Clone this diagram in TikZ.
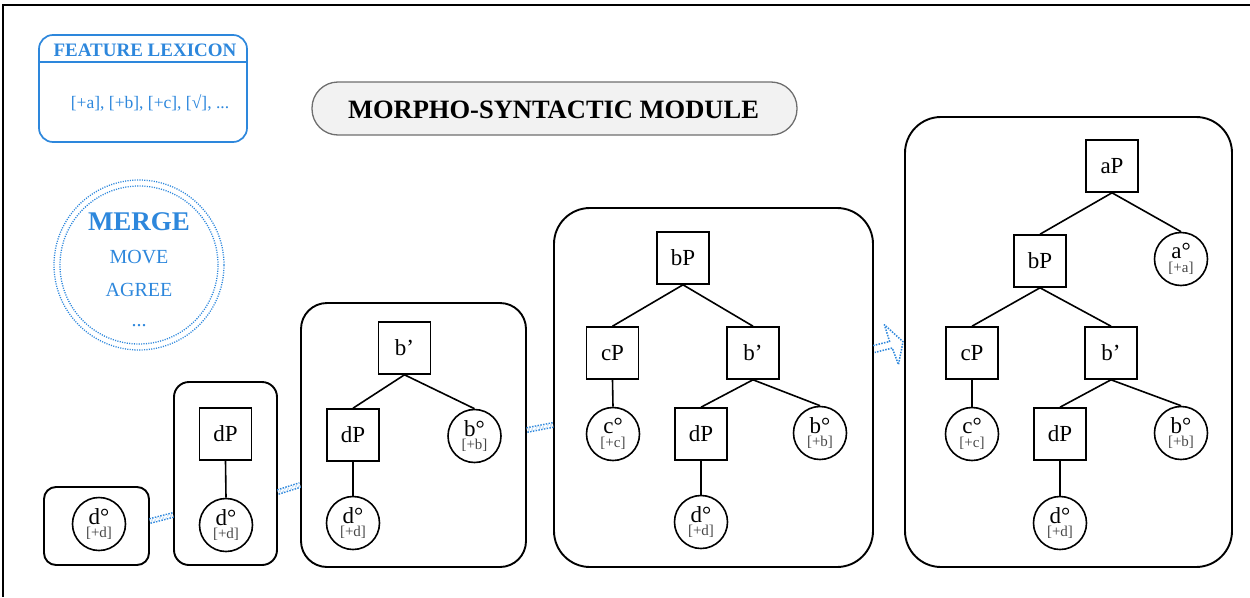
\documentclass[tikz,border=0pt]{standalone}
\usepackage{fontspec}
\setmainfont{Liberation Serif}
\usetikzlibrary{arrows.meta}
\definecolor{lexblue}{RGB}{45,135,220}
\definecolor{modfill}{RGB}{242,242,242}
\definecolor{modline}{RGB}{110,110,110}
\definecolor{featgray}{RGB}{70,70,70}
\newcommand{\fsz}[1]{\fontsize{#1}{#1}\selectfont}
\newcommand{\headtxt}[2]{#1°\\{\fontsize{15}{13.5}\selectfont\color{featgray}[+#2]}}
\newcommand{\bbar}{b\char39}
\tikzset{
  frame/.style={line width=1.6pt},
  stage/.style={draw, line width=1.9pt, inner sep=0pt},
  phr/.style={draw, line width=1.6pt, minimum size=52pt, inner sep=0pt, font=\fsz{23}},
  hd/.style={draw, circle, line width=1.6pt, minimum size=53pt, inner sep=0pt, align=center, font=\fontsize{23}{13.5}\selectfont},
  edge/.style={line width=1.6pt},
  link/.style={draw=lexblue, line width=1.5pt, double=white, double distance=3pt, dash pattern=on 1.5pt off 1.3pt},
  bluetext/.style={text=lexblue, inner sep=0pt, anchor=base}
}
\begin{document}
\begin{tikzpicture}[x=1pt,y=-1pt]
\useasboundingbox (0,0) rectangle (1250,597);
% outer frame lines
\coordinate (ftl) at (3,5);
\coordinate (ftr) at (1250,5);
\coordinate (fbl) at (3,597);
\draw[frame] (ftr) -- (ftl) -- (fbl);

% feature lexicon
\node[draw=lexblue, line width=1.7pt, rounded corners=14pt, minimum width=208pt, minimum height=107pt] (lex) at (143,88.5) {};
\draw[draw=lexblue, line width=1.7pt] (lex.west |- 0,62) -- (lex.east |- 0,62);
\node[bluetext, font=\bfseries\fsz{19}] (lext) at (145,56) {FEATURE LEXICON};
\node[bluetext, font=\fsz{17.5}] (lexb) at (150,108) {[+a], [+b], [+c], [\char"221A], ...};

% merge circle
\node[circle, draw=lexblue, line width=1.3pt, dash pattern=on 1.1pt off 1.3pt, minimum size=170pt, inner sep=0pt] (mo) at (139,265) {};
\node[circle, draw=lexblue, line width=1.3pt, dash pattern=on 1.1pt off 1.3pt, minimum size=158pt, inner sep=0pt] (mi) at (139,265) {};
\node[bluetext, font=\bfseries\fsz{27}] (merge) at (139,230.5) {MERGE};
\node[bluetext, font=\fsz{20}] (move) at (139,263) {MOVE};
\node[bluetext, font=\fsz{20}] (agree) at (139,296.5) {AGREE};
\node[bluetext, font=\fsz{20}] (dots) at (139,326.5) {...};

% module title
\node[draw=modline, fill=modfill, line width=1.3pt, rounded corners=26pt, minimum width=485pt, minimum height=53pt] (mod) at (554.5,108.5) {};
\node[inner sep=0pt, anchor=base, font=\bfseries\fsz{26.5}] (modt) at (553.5,118.3) {MORPHO-SYNTACTIC MODULE};

% stage boxes
\node[stage, rounded corners=12pt, minimum width=105pt, minimum height=78pt] (b1) at (96.5,526) {};
\node[stage, rounded corners=15pt, minimum width=103pt, minimum height=183pt] (b2) at (225.5,473.5) {};
\node[stage, rounded corners=26pt, minimum width=225pt, minimum height=264pt] (b3) at (413.5,435) {};
\node[stage, rounded corners=36pt, minimum width=319pt, minimum height=359pt] (b4) at (713.5,387.5) {};
\node[stage, rounded corners=36pt, minimum width=327pt, minimum height=450pt] (b5) at (1068.5,342) {};

% stage 1
\node[hd] (n1d) at (99,524) {\headtxt{d}{d}};
% stage 2
\node[phr] (n2dP) at (225.5,434) {dP};
\node[hd] (n2d) at (226,525) {\headtxt{d}{d}};
\draw[edge] (n2dP.south) -- (n2d.north);
% stage 3
\node[phr] (n3b) at (404.5,348) {\bbar};
\node[phr] (n3dP) at (353,435) {dP};
\node[hd] (n3bh) at (474.5,436) {\headtxt{b}{b}};
\node[hd] (n3d) at (353,523) {\headtxt{d}{d}};
\draw[edge] (n3b.south) -- (n3dP.north);
\draw[edge] (n3b.south) -- (n3bh.north);
\draw[edge] (n3dP.south) -- (n3d.north);
% stage 4
\node[phr] (n4bP) at (683,258) {bP};
\node[phr] (n4cP) at (612.5,353) {cP};
\node[phr] (n4b) at (753,353) {\bbar};
\node[hd] (n4c) at (613,434) {\headtxt{c}{c}};
\node[phr] (n4dP) at (701,434) {dP};
\node[hd] (n4bh) at (820,433) {\headtxt{b}{b}};
\node[hd] (n4d) at (701,522) {\headtxt{d}{d}};
\draw[edge] (n4bP.south) -- (n4cP.north);
\draw[edge] (n4bP.south) -- (n4b.north);
\draw[edge] (n4cP.south) -- (n4c.north);
\draw[edge] (n4b.south) -- (n4dP.north);
\draw[edge] (n4b.south) -- (n4bh.north);
\draw[edge] (n4dP.south) -- (n4d.north);
% stage 5
\node[phr] (n5aP) at (1112,166) {aP};
\node[phr] (n5bP) at (1040,261) {bP};
\node[hd] (n5a) at (1181,259) {\headtxt{a}{a}};
\node[phr] (n5cP) at (972,353) {cP};
\node[phr] (n5b) at (1111,353) {\bbar};
\node[hd] (n5c) at (972,434) {\headtxt{c}{c}};
\node[phr] (n5dP) at (1060,434) {dP};
\node[hd] (n5bh) at (1181,433) {\headtxt{b}{b}};
\node[hd] (n5d) at (1060,523) {\headtxt{d}{d}};
\draw[edge] (n5aP.south) -- (n5bP.north);
\draw[edge] (n5aP.south) -- (n5a.north);
\draw[edge] (n5bP.south) -- (n5cP.north);
\draw[edge] (n5bP.south) -- (n5b.north);
\draw[edge] (n5cP.south) -- (n5c.north);
\draw[edge] (n5b.south) -- (n5dP.north);
\draw[edge] (n5b.south) -- (n5bh.north);
\draw[edge] (n5dP.south) -- (n5d.north);

% links between stages
\draw[link] ([yshift=5pt]b1.east) -- ([yshift=-41.5pt]b2.west);
\draw[link] ([yshift=-18.5pt]b2.east) -- ([yshift=-50pt]b3.west);
\draw[link] ([yshift=5pt]b3.east) -- ([yshift=-37.5pt]b4.west);
\coordinate (arr) at ([yshift=38.5pt]b4.east);
\begin{scope}[shift={(arr)}, rotate=14, x=1pt, y=1pt]
\draw[lexblue, line width=1.5pt, dash pattern=on 1.5pt off 1.3pt, line join=round]
  (0,3.5) -- (17,3.5) -- (16,21) -- (30,0) -- (20,-21) -- (18,-3.5) -- (0,-3.5);
\end{scope}
\end{tikzpicture}
\end{document}
